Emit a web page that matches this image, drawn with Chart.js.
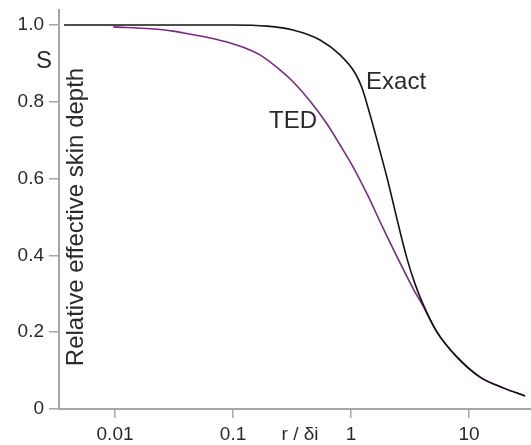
<!DOCTYPE html>
<html>
<head>
<meta charset="utf-8">
<script src="https://cdn.jsdelivr.net/npm/chart.js@4/dist/chart.umd.min.js"></script>
<style>
  html, body { margin: 0; padding: 0; background: #fff; }
  canvas { display: block; }
</style>
</head>
<body>
<canvas id="chart" width="531" height="445"></canvas>
<script>
// r / δi on a log axis, relative effective skin depth S on a linear one
var exactR = [0.0037, 0.01, 0.05, 0.1, 0.194, 0.3225, 0.546, 0.807, 1.081, 1.239, 1.449, 1.694, 2.019, 2.36, 2.653, 2.984, 3.42, 3.998, 5.356, 7.91, 12.4, 19.42, 29.83];
var exactS = [1.0, 1.0, 1.0, 1.0, 0.997, 0.987, 0.961, 0.922, 0.875, 0.836, 0.766, 0.69, 0.602, 0.516, 0.451, 0.391, 0.333, 0.279, 0.2, 0.135, 0.083, 0.055, 0.034];

var tedR = [0.00965, 0.0202, 0.0311, 0.0416, 0.0639, 0.0944, 0.139, 0.169, 0.25, 0.3225, 0.449, 0.626, 0.807, 1.02, 1.366, 1.868, 2.454, 2.984, 3.42, 3.998, 5.356, 7.91, 12.4, 19.42, 29.83];
var tedS = [0.995, 0.99, 0.984, 0.977, 0.966, 0.953, 0.935, 0.922, 0.883, 0.852, 0.802, 0.742, 0.6875, 0.635, 0.56, 0.471, 0.396, 0.344, 0.309, 0.273, 0.2, 0.135, 0.083, 0.055, 0.034];

var xTicks = [0.01, 0.1, 1, 10];
var xTickLabels = ['0.01', '0.1', '1', '10'];
var yTicks = [0, 0.2, 0.4, 0.6, 0.8, 1.0];
var yTickLabels = ['0', '0.2', '0.4', '0.6', '0.8', '1.0'];

// curve captions, placed in data units (left edge, vertical middle)
var captions = [
  { text: 'Exact', r: 1.34, s: 0.85 },
  { text: 'TED', r: 0.202, s: 0.75 }
];

function pairs(xs, ys) {
  return xs.map(function (x, i) { return { x: x, y: ys[i] }; });
}

var AXIS = '#a6a6a6';
var INK = '#2a2a2a';
var FONT = '"Liberation Sans", Arial, sans-serif';

var labels = {
  id: 'labels',
  afterDraw: function (chart) {
    var ctx = chart.ctx,
      xs = chart.scales.x,
      ys = chart.scales.y;
    ctx.save();
    ctx.fillStyle = INK;
    ctx.font = '24px ' + FONT;
    ctx.textAlign = 'left';
    ctx.textBaseline = 'middle';
    captions.forEach(function (c) {
      ctx.fillText(c.text, xs.getPixelForValue(c.r), ys.getPixelForValue(c.s));
    });

    ctx.textAlign = 'center';
    ctx.fillText('S', 44, 61);

    ctx.font = '19px ' + FONT;
    ctx.textBaseline = 'top';
    ctx.fillText('r / \u03b4i', 300, 425);

    ctx.font = '24px ' + FONT;
    ctx.textBaseline = 'middle';
    ctx.translate(76, 217);
    ctx.rotate(-Math.PI / 2);
    ctx.fillText('Relative effective skin depth', 0, 0);
    ctx.restore();
  }
};

new Chart(document.getElementById('chart'), {
  type: 'scatter',
  data: {
    datasets: [{
      label: 'Exact',
      data: pairs(exactR, exactS),
      showLine: true,
      borderColor: '#141414',
      borderWidth: 1.6,
      pointRadius: 0,
      cubicInterpolationMode: 'monotone'
    }, {
      label: 'TED',
      data: pairs(tedR, tedS),
      showLine: true,
      borderColor: '#7a2a82',
      borderWidth: 1.6,
      pointRadius: 0,
      cubicInterpolationMode: 'monotone'
    }]
  },
  options: {
    responsive: false,
    devicePixelRatio: 1,
    animation: false,
    layout: { padding: { top: 10, right: 0, left: 0, bottom: 0 } },
    plugins: {
      legend: { display: false },
      tooltip: { enabled: false }
    },
    scales: {
      x: {
        type: 'logarithmic',
        min: 0.00335,
        max: 33.5,
        border: { color: AXIS, width: 2 },
        grid: { drawOnChartArea: false, drawTicks: true, tickLength: 9, color: AXIS, lineWidth: 1.5 },
        ticks: {
          autoSkip: false,
          maxRotation: 0,
          padding: 5,
          color: INK,
          font: { family: FONT, size: 19 },
          callback: function (v) {
            var i = xTicks.indexOf(v);
            return i < 0 ? '' : xTickLabels[i];
          }
        },
        afterBuildTicks: function (scale) {
          scale.ticks = xTicks.map(function (v) { return { value: v }; });
        },
        afterFit: function (scale) {
          scale.height = 36;
          scale.paddingLeft = 0;
          scale.paddingRight = 0;
        }
      },
      y: {
        min: 0,
        max: 1.039,
        border: { color: AXIS, width: 2 },
        grid: { drawOnChartArea: false, drawTicks: true, tickLength: 10, color: AXIS, lineWidth: 1.5 },
        ticks: {
          padding: 5,
          color: INK,
          font: { family: FONT, size: 19 },
          callback: function (v) {
            var i = yTicks.indexOf(v);
            return i < 0 ? '' : yTickLabels[i];
          }
        },
        afterBuildTicks: function (scale) {
          scale.ticks = yTicks.map(function (v) { return { value: v }; });
        },
        afterFit: function (scale) {
          scale.width = 59;
          scale.paddingTop = 0;
          scale.paddingBottom = 0;
        }
      }
    }
  },
  plugins: [labels]
});
</script>
</body>
</html>
